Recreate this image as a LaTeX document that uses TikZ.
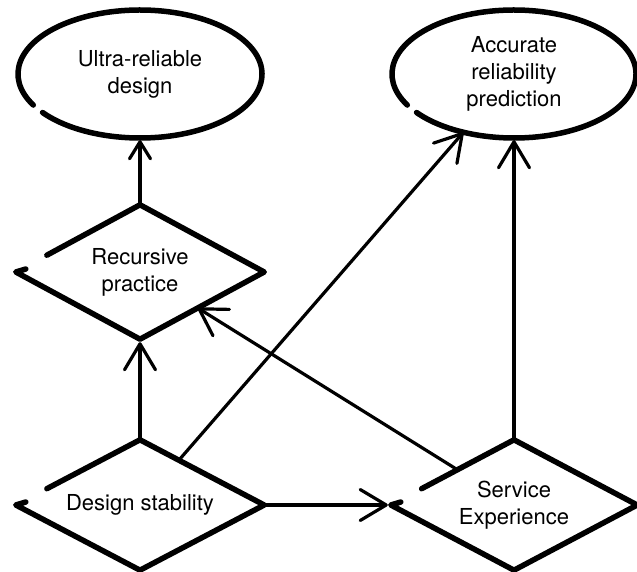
\documentclass[tikz,border=0pt]{standalone}
\usepackage{fontspec}
\setmainfont{TeX Gyre Heros}
\usetikzlibrary{shapes.geometric,arrows.meta,calc}
\tikzset{
  lbl/.style={font=\fontsize{22}{27}\selectfont, align=center, inner sep=0pt},
  goal/.style={lbl, ellipse, draw=none, minimum width=244pt, minimum height=128pt},
  factor/.style={lbl, diamond, aspect=2, draw=none, minimum width=248pt, minimum height=134pt},
  shapeline/.style={line width=5.5pt, line cap=round, line join=round},
  conn/.style={line width=3.2pt, line cap=round, -{Straight Barb[length=26pt,width=31pt,round]}},
  connsmall/.style={line width=3.2pt, line cap=round, -{Straight Barb[length=17pt,width=21pt,round]}}
}
\begin{document}
\begin{tikzpicture}[x=1pt,y=1pt]
\useasboundingbox (0,0) rectangle (637,571);
% nodes
\node[goal] (ud) at (140,497) {Ultra-reliable\\design};
\node[goal] (arp) at (514,497) {Accurate\\reliability\\prediction};
\node[factor] (rp) at (140,299) {Recursive\\practice};
\node[factor, minimum height=130pt] (ds) at (140,66) {Design stability};
\node[factor, minimum height=130pt, minimum width=246pt] (se) at (514,66) {Service\\Experience};
% connectors
\draw[connsmall, shorten >=2pt] (rp.north) -- (ud);
\draw[conn, shorten >=3pt] (ds.north) -- (rp.south);
\draw[conn, shorten >=3pt] (ds.east) -- (se.west);
\draw[conn] (ds) -- (arp);
\draw[conn] (se) -- (rp);
\draw[conn, shorten >=2pt] (se.north) -- (arp);
% hand-drawn outlines
\draw[shapeline] ([shift={(217:122pt and 64pt)}]ud.center)
  arc[start angle=217, end angle=569, x radius=122pt, y radius=64pt];
\draw[shapeline] ([shift={(217:122pt and 64pt)}]arp.center)
  arc[start angle=217, end angle=569, x radius=122pt, y radius=64pt];
\foreach \d in {rp,ds,se}{
  \draw[shapeline] ($(\d.west)!0.25!(\d.north)$) -- (\d.north) -- (\d.east)
    -- (\d.south) -- (\d.west) -- ++(10pt,3pt);
}
\end{tikzpicture}
\end{document}
